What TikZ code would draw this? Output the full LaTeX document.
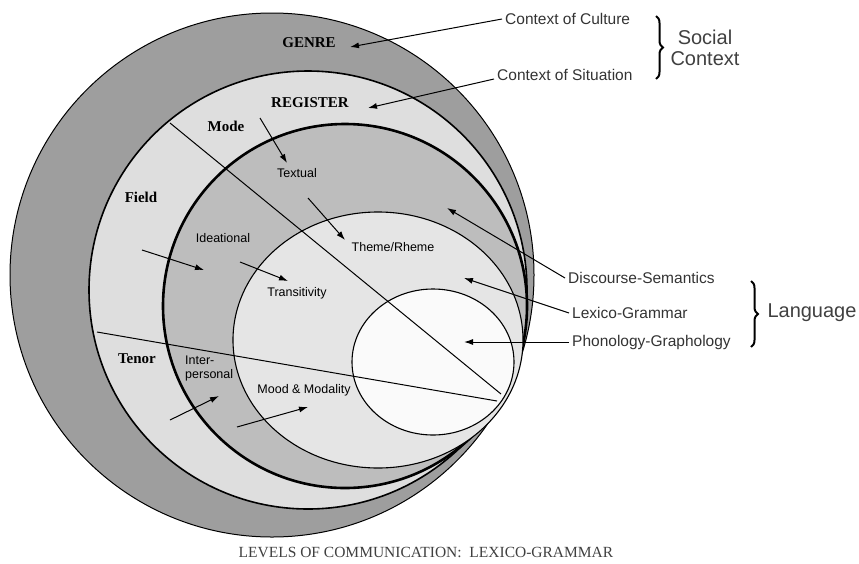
\documentclass[tikz,border=0pt]{standalone}
\usepackage{fontspec}
\setmainfont{Liberation Serif}
\newfontfamily\arialfont{Liberation Sans}
\usetikzlibrary{arrows.meta,decorations.pathreplacing}

\begin{document}
\begin{tikzpicture}[x=1pt,y=-1pt,
  lvl/.style={font=\fontsize{15}{17}\selectfont\bfseries, inner sep=1pt},
  fn/.style={font=\arialfont\fontsize{12.5}{14}\selectfont, inner sep=1pt},
  side/.style={font=\arialfont\fontsize{15.5}{17}\selectfont, text=black!80, inner sep=3pt, anchor=west},
  big/.style={font=\arialfont\fontsize{20}{21}\selectfont, text=black!75, inner sep=1pt},
  arr/.style={-{Latex[length=9pt,width=6pt]}, line width=1pt},
  cut/.style={line width=1pt}]
\useasboundingbox (0,0) rectangle (859,563);

%% circles, from the outside in
\draw[fill=black!38, line width=1pt] (272,275) circle (262); %%Genre
\draw[fill=black!13, line width=1.6pt] (308,290) circle (219); %%Register
\draw[fill=black!26, line width=2.6pt] (345,306) ellipse (182 and 182); %%Metafunctions
\draw[fill=black!10, line width=1.1pt] (378,340) ellipse (145 and 128); %%Discourse
\draw[fill=black!2, line width=1.1pt] (433,362) ellipse (81 and 73); %%Phonology

%% the two cutting lines
\coordinate (cutA1) at (170,123);
\coordinate (cutA2) at (501,394);
\coordinate (cutB1) at (97,332);
\coordinate (cutB2) at (497,401);
\draw[cut] (cutA1) -- (cutA2);
\draw[cut] (cutB1) -- (cutB2);

%% labels inside
\node[lvl] (genre) at (309,43) {GENRE};
\node[lvl] (register) at (310,103) {REGISTER};
\node[lvl] (mode) at (226,126) {Mode};
\node[lvl] (field) at (141,197) {Field};
\node[lvl] (tenor) at (137,359) {Tenor};
\node[fn] (textual) at (297,173) {Textual};
\node[fn] (ideational) at (223,238) {Ideational};
\node[fn] (theme) at (393,247) {Theme/Rheme};
\node[fn] (trans) at (297,293) {Transitivity};
\node[fn, align=left, anchor=north west] (inter) at (184,355) {Inter-\\personal};
\node[fn] (mood) at (304,390) {Mood \& Modality};

%% labels outside
\node[side] (culture) at (502,19) {Context of Culture};
\node[side] (situation) at (494,75) {Context of Situation};
\node[big, align=center] (social) at (705,48) {Social\\Context};
\node[side] (discourse) at (565,278) {Discourse-Semantics};
\node[side] (lexico) at (569,313) {Lexico-Grammar};
\node[side] (phono) at (569,342) {Phonology-Graphology};
\node[big] (language) at (812,313) {Language};
\node[font=\fontsize{15.5}{17}\selectfont, text=black!75] (caption) at (426,552) {LEVELS OF COMMUNICATION:\ \ LEXICO-GRAMMAR};

%% braces
\coordinate (socTop) at (656,16);
\coordinate (socBot) at (656,79);
\coordinate (lanTop) at (751,281);
\coordinate (lanBot) at (751,347);
\draw[decorate, decoration={brace, amplitude=7pt}, line width=2pt] (socTop) -- (socBot);
\draw[decorate, decoration={brace, amplitude=7pt}, line width=2pt] (lanTop) -- (lanBot);

%% arrows from the outside labels
\coordinate (genreTip) at (350,47);
\coordinate (registerTip) at (368,108);
\coordinate (discTip) at (447,208);
\coordinate (lexTip) at (464,278);
\coordinate (phonTip) at (464,342);
\draw[arr] (culture.west) -- (genreTip);
\draw[arr] ([yshift=-4pt]situation.west) -- (registerTip);
\draw[arr] (discourse.west) -- (discTip);
\draw[arr] (lexico.west) -- (lexTip);
\draw[arr] (phono.west) -- (phonTip);

%% arrows inside
\coordinate (modeFrom) at (260,118);
\coordinate (modeTip) at (287,163);
\coordinate (textFrom) at (308,198);
\coordinate (textTip) at (345,240);
\coordinate (fieldFrom) at (142,250);
\coordinate (fieldTip) at (204,270);
\coordinate (ideaFrom) at (240,262);
\coordinate (ideaTip) at (288,281);
\coordinate (tenorFrom) at (170,420);
\coordinate (tenorTip) at (219,396);
\coordinate (moodFrom) at (237,427);
\coordinate (moodTip) at (308,407);
\draw[arr] (modeFrom) -- (modeTip);
\draw[arr] (textFrom) -- (textTip);
\draw[arr] (fieldFrom) -- (fieldTip);
\draw[arr] (ideaFrom) -- (ideaTip);
\draw[arr] (tenorFrom) -- (tenorTip);
\draw[arr] (moodFrom) -- (moodTip);
\end{tikzpicture}
\end{document}
